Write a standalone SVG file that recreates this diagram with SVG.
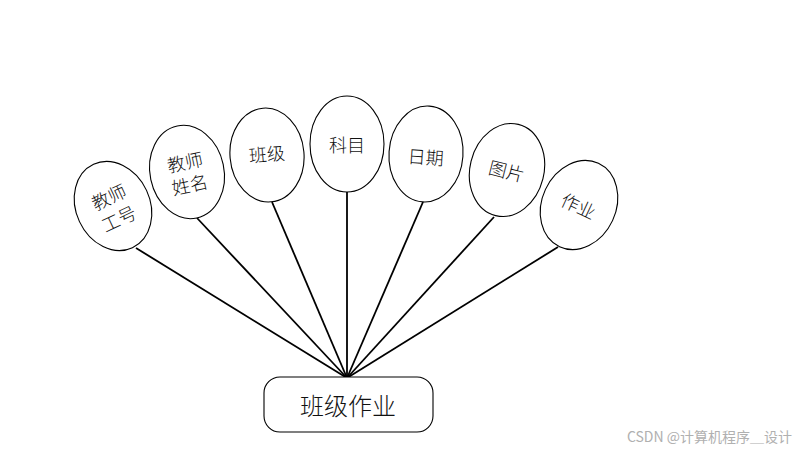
<svg xmlns="http://www.w3.org/2000/svg" width="797" height="450" viewBox="0 0 797 450">
<style>
.e{fill:#fff;stroke:#000;stroke-width:1.1}
.t{font-family:"Noto Sans CJK SC","Liberation Serif",sans-serif;font-size:18px;font-weight:300;fill:#111;text-anchor:middle;dominant-baseline:central}
.c line{stroke:#000;stroke-width:1.8}
</style>
<rect width="797" height="450" fill="#fff"/>
<g class="c" id="connectors">
<line x1="136" y1="248" x2="347" y2="378"/>
<line x1="197" y1="218" x2="347" y2="378"/>
<line x1="272" y1="202" x2="347" y2="378"/>
<line x1="347" y1="192" x2="347" y2="378"/>
<line x1="423" y1="202" x2="347" y2="378"/>
<line x1="494" y1="217" x2="347" y2="378"/>
<line x1="558" y1="247" x2="347" y2="378"/>
</g>
<g id="n1" transform="translate(113,206) rotate(-25)">
<ellipse class="e" cx="0" cy="0" rx="37" ry="46"/>
<text class="t" x="0" y="-11">教师</text>
<text class="t" x="0" y="13">工号</text>
</g>
<g id="n2" transform="translate(187,172) rotate(-12)">
<ellipse class="e" cx="0" cy="0" rx="37" ry="47"/>
<text class="t" x="0" y="-11">教师</text>
<text class="t" x="0" y="12">姓名</text>
</g>
<g id="n3" transform="translate(267,155) rotate(-5)">
<ellipse class="e" cx="0" cy="0" rx="37" ry="47"/>
<text class="t" x="0" y="-2">班级</text>
</g>
<g id="n4" transform="translate(347,144)">
<ellipse class="e" cx="0" cy="0" rx="37" ry="48"/>
<text class="t" x="0" y="0">科目</text>
</g>
<g id="n5" transform="translate(426,154) rotate(4)">
<ellipse class="e" cx="0" cy="0" rx="37" ry="48"/>
<text class="t" x="0" y="2">日期</text>
</g>
<g id="n6" transform="translate(507,170) rotate(14)">
<ellipse class="e" cx="0" cy="0" rx="37" ry="47"/>
<text class="t" x="0" y="0">图片</text>
</g>
<g id="n7" transform="translate(579,205) rotate(25)">
<ellipse class="e" cx="0" cy="0" rx="37" ry="46"/>
<text class="t" x="0" y="0">作业</text>
</g>
<g id="main">
<rect x="264" y="377" width="169" height="55" rx="16" fill="#fff" stroke="#000" stroke-width="1.1"/>
<text class="t" x="348" y="404" style="font-size:24px">班级作业</text>
</g>
<text x="792" y="442" style="font-family:'Noto Sans CJK SC','Liberation Sans',sans-serif;font-size:14px;fill:#b0b0b0;text-anchor:end">CSDN @计算机程序＿设计</text>
</svg>
